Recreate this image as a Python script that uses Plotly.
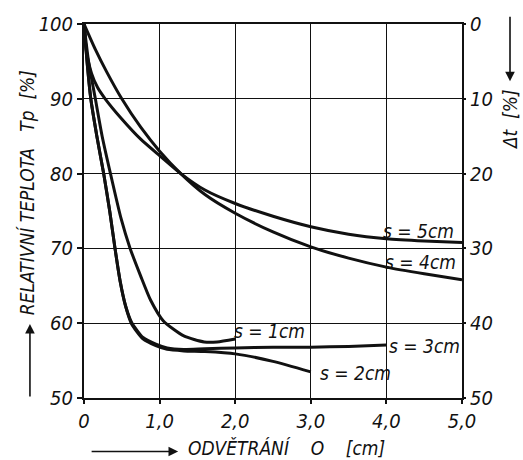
import plotly.graph_objects as go

# Ventilation gap O [cm] and relative temperature Tp [%] for each gap width s
s1_x = [0, 0.06, 0.15, 0.24, 0.35, 0.49, 0.61, 0.75, 0.88, 1.05, 1.32, 1.59, 1.76, 2.0]
s1_y = [100, 95, 90, 85, 80, 74, 70, 66.3, 63.1, 60.3, 58.3, 57.5, 57.5, 57.9]

s2_x = [0, 0.04, 0.09, 0.17, 0.26, 0.34, 0.41, 0.48, 0.55, 0.63, 0.78, 0.95, 1.1, 1.32, 1.6, 2.0, 2.5, 3.0]
s2_y = [100, 95, 90, 85, 80, 75, 70, 65.5, 62.3, 59.9, 57.9, 57.0, 56.5, 56.3, 56.2, 55.9, 54.9, 53.5]

s3_x = [0, 0.04, 0.09, 0.17, 0.26, 0.34, 0.41, 0.48, 0.55, 0.63, 0.78, 0.95, 1.1, 1.32, 1.6, 2.0, 2.5, 3.0, 3.5, 4.0]
s3_y = [100, 95, 90, 85, 80, 75, 70, 65.5, 62.3, 60.1, 58.1, 57.2, 56.7, 56.5, 56.6, 56.7, 56.8, 56.8, 56.9, 57.1]

s4_x = [0, 0.15, 0.3, 0.5, 0.75, 1.0, 1.28, 1.6, 2.0, 2.5, 3.0, 3.5, 4.0, 4.5, 5.0]
s4_y = [100, 96.6, 93.6, 90, 86.2, 83.0, 80.0, 77.2, 74.7, 72.2, 70.2, 68.7, 67.5, 66.6, 65.8]

s5_x = [0, 0.03, 0.1, 0.18, 0.28, 0.5, 0.75, 1.0, 1.28, 1.6, 2.0, 2.5, 3.0, 3.5, 4.0, 4.5, 5.0]
s5_y = [100, 96.5, 93.4, 91.5, 90, 87.3, 84.6, 82.4, 80.0, 77.8, 76.0, 74.3, 72.9, 71.9, 71.3, 71.0, 70.8]

x_ticks = [0, 1, 2, 3, 4, 5]
x_tick_labels = ["0", "1,0", "2,0", "3,0", "4,0", "5,0"]
tp_ticks = [50, 60, 70, 80, 90, 100]
dt_ticks = [0, 10, 20, 30, 40, 50]

# curve label text and anchor positions (O, Tp)
label_text = ["s = 5cm", "s = 4cm", "s = 1cm", "s = 3cm", "s = 2cm"]
label_x = [4.43, 4.45, 2.45, 4.5, 3.59]
label_y = [72.3, 68.2, 58.9, 57.0, 53.3]

FONT = "Liberation Sans Narrow, DejaVu Sans Condensed, Liberation Sans, sans-serif"
ink = "#111"

fig = go.Figure()
for xs, ys in [(s1_x, s1_y), (s2_x, s2_y), (s3_x, s3_y), (s4_x, s4_y), (s5_x, s5_y)]:
    fig.add_trace(go.Scatter(
        x=xs, y=ys, mode="lines",
        line=dict(color=ink, width=3, shape="spline", smoothing=0.6),
        showlegend=False, hoverinfo="skip",
    ))

# carrier for the right-hand Δt axis
fig.add_trace(go.Scatter(x=[0], y=[0], yaxis="y2", mode="markers",
                         marker=dict(opacity=0), showlegend=False, hoverinfo="skip"))

tick_font = dict(family=FONT, size=20, color=ink, style="italic")

fig.update_layout(
    width=523, height=460,
    margin=dict(l=84, r=61, t=20, b=62),
    paper_bgcolor="white", plot_bgcolor="white",
    xaxis=dict(
        range=[0, 5], tickvals=x_ticks, ticktext=x_tick_labels,
        showgrid=True, gridcolor=ink, gridwidth=1,
        showline=True, linecolor=ink, linewidth=2, mirror=True,
        zeroline=False, ticks="outside", ticklen=4, tickwidth=2, tickcolor=ink,
        tickfont=tick_font,
    ),
    yaxis=dict(
        range=[50, 100], tickvals=tp_ticks,
        showgrid=True, gridcolor=ink, gridwidth=1,
        showline=True, linecolor=ink, linewidth=2, mirror=True,
        zeroline=False, ticks="outside", ticklen=5, tickwidth=2, tickcolor=ink,
        tickfont=tick_font,
    ),
    yaxis2=dict(
        overlaying="y", side="right", range=[50, 0], tickvals=dt_ticks,
        showgrid=False, showline=False, zeroline=False,
        ticks="outside", ticklen=3, tickwidth=2, tickcolor=ink,
        tickfont=tick_font,
    ),
)

for t, lx, ly in zip(label_text, label_x, label_y):
    fig.add_annotation(x=lx, y=ly, text=t, showarrow=False,
                       xanchor="center", yanchor="middle",
                       font=dict(family=FONT, size=19, color=ink, style="italic"))

title_font = dict(family=FONT, size=19, color=ink, style="italic")

# left axis title with upward arrow
fig.add_annotation(xref="paper", yref="paper", x=-0.151, y=0.55,
                   xanchor="center", yanchor="middle",
                   text="RELATIVNÍ TEPLOTA   Tp  [%]", textangle=-90,
                   showarrow=False, font=title_font)
fig.add_annotation(xref="paper", yref="paper", x=-0.143, y=0.198, ax=0, ay=74,
                   text="", showarrow=True, arrowhead=2, arrowsize=1.2,
                   arrowwidth=1.6, arrowcolor=ink)

# bottom axis title with arrow pointing right
fig.add_annotation(xref="paper", yref="paper", x=0.537, y=-0.135,
                   xanchor="center", yanchor="middle",
                   text="ODVĚTRÁNÍ    O    [cm]", showarrow=False, font=title_font)
fig.add_annotation(xref="paper", yref="paper", x=0.249, y=-0.143, ax=-88, ay=0,
                   text="", showarrow=True, arrowhead=2, arrowsize=1.2,
                   arrowwidth=1.6, arrowcolor=ink)

# right axis title with downward arrow
fig.add_annotation(xref="paper", yref="paper", x=1.127, y=0.743,
                   xanchor="center", yanchor="middle",
                   text="Δt  [%]", textangle=-90, showarrow=False, font=title_font)
fig.add_annotation(xref="paper", yref="paper", x=1.127, y=0.8466, ax=0, ay=-66,
                   text="", showarrow=True, arrowhead=2, arrowsize=1.2,
                   arrowwidth=1.6, arrowcolor=ink)

fig.write_html("out.html")
